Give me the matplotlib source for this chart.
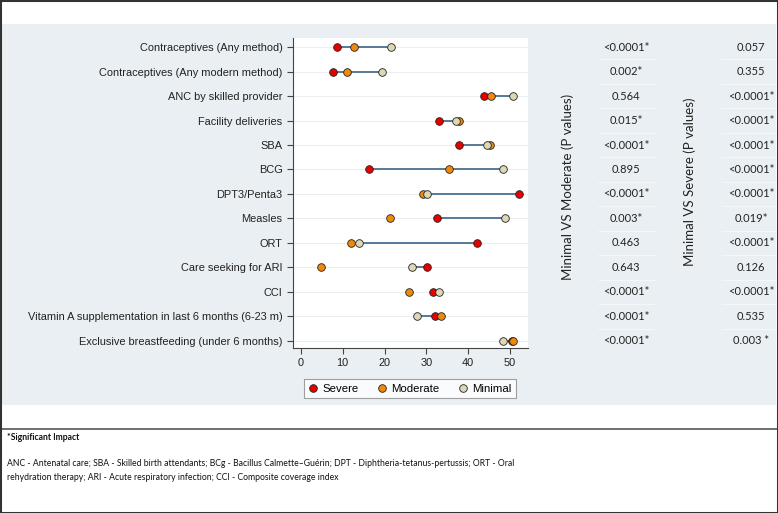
import numpy as np
import matplotlib.pyplot as plt
import matplotlib.transforms as mtransforms
from matplotlib.patches import Rectangle
from matplotlib.lines import Line2D

indicators = [
    'Contraceptives (Any method)',
    'Contraceptives (Any modern method)',
    'ANC by skilled provider',
    'Facility deliveries',
    'SBA',
    'BCG',
    'DPT3/Penta3',
    'Measles',
    'ORT',
    'Care seeking for ARI',
    'CCI',
    'Vitamin A supplementation in last 6 months (6-23 m)',
    'Exclusive breastfeeding (under 6 months)',
]
severe = [8.7, 7.7, 43.8, 32.9, 37.7, 16.2, 52.2, 32.6, 42.0, 30.2, 31.7, 32.1, 50.5]
moderate = [12.8, 10.9, 45.4, 37.8, 45.1, 35.5, 29.3, 21.3, 12.0, 4.9, 25.8, 33.5, 50.8]
minimal = [21.6, 19.5, 50.8, 37.1, 44.4, 48.3, 30.1, 48.7, 13.9, 26.6, 33.1, 27.8, 48.3]

p_min_vs_mod = ['<0.0001*', '0.002*', '0.564', '0.015*', '<0.0001*', '0.895', '<0.0001*',
                '0.003*', '0.463', '0.643', '<0.0001*', '<0.0001*', '<0.0001*']
p_min_vs_sev = ['0.057', '0.355', '<0.0001*', '<0.0001*', '<0.0001*', '<0.0001*', '<0.0001*',
                '0.019*', '<0.0001*', '0.126', '<0.0001*', '0.535', '0.003 *']

W, H = 778, 513
fig = plt.figure(figsize=(W / 100, H / 100), dpi=100)
fig.patch.set_facecolor('white')

# light panel behind the chart and p-value columns
fig.patches.append(Rectangle((1 / W, 1 - 405 / H), 775 / W, (405 - 24) / H,
                             transform=fig.transFigure, facecolor='#e9eff2',
                             edgecolor='none', zorder=-2))
fig.patches.append(Rectangle((0, 0), 1, 1, transform=fig.transFigure, fill=False,
                             edgecolor='#333333', lw=2.2, zorder=5))
fig.add_artist(Line2D([0, 1], [1 - 429 / H] * 2, color='#555555', lw=1.2))

ax = fig.add_axes([293 / W, 1 - 348 / H, (528 - 293) / W, (348 - 38) / H])
ax.set_facecolor('white')
ax.set_zorder(1)
y = np.arange(len(indicators))

ax.hlines(y, severe, minimal, color='#4a7090', lw=1.3, zorder=2)
ax.plot(severe, y, 'o', ls='none', ms=5.5, mfc='#e60000', mec='#222222', mew=0.6, zorder=3, label='Severe')
ax.plot(moderate, y, 'o', ls='none', ms=5.5, mfc='#f0880a', mec='#222222', mew=0.6, zorder=3, label='Moderate')
ax.plot(minimal, y, 'o', ls='none', ms=5.5, mfc='#dcd7b4', mec='#222222', mew=0.6, zorder=3, label='Minimal')

ax.set_xlim(-1.9, 54.3)
ax.set_ylim(12.29, -0.37)
ax.set_xticks(range(0, 51, 10))
ax.set_yticks(y, indicators)
ax.yaxis.grid(True, color='#e8eef2', lw=0.8)
ax.set_axisbelow(True)
for s in ['top', 'right']:
    ax.spines[s].set_visible(False)
for s in ['left', 'bottom']:
    ax.spines[s].set_color('#444444')
ax.tick_params(axis='both', length=4, color='#444444', labelsize=7.9, labelcolor='#222222')
for lab in ax.get_xticklabels() + ax.get_yticklabels():
    lab.set_family('Liberation Sans')

leg = fig.legend(loc='center', bbox_to_anchor=(410 / W, 1 - 388.5 / H), ncol=3,
                 frameon=True, fancybox=False, edgecolor='#888888',
                 handlelength=0.8, handletextpad=0.45, columnspacing=1.6, borderpad=0.4,
                 prop={'family': 'Liberation Sans', 'size': 8.2})
leg.get_frame().set_linewidth(0.8)

# p-value columns aligned with the rows
tr = mtransforms.blended_transform_factory(fig.transFigure, ax.transData)
for i in range(len(indicators)):
    fig.text(626 / W, i, p_min_vs_mod[i], transform=tr, ha='center', va='center',
             fontsize=8, family='Lato', color='#222222')
    fig.text(751 / W, i, p_min_vs_sev[i], transform=tr, ha='center', va='center',
             fontsize=8, family='Lato', color='#222222')
for i in range(len(indicators) - 1):
    fig.add_artist(Line2D([598 / W, 655 / W], [i + 0.5, i + 0.5], transform=tr,
                          color='#f4f7f9', lw=0.8))
    fig.add_artist(Line2D([722 / W, 776 / W], [i + 0.5, i + 0.5], transform=tr,
                          color='#f4f7f9', lw=0.8))

fig.text(568 / W, 1 - 187 / H, 'Minimal VS Moderate (P values)', rotation=90,
         ha='center', va='center', fontsize=9.5, family='Lato', color='#222222')
fig.text(690 / W, 1 - 182 / H, 'Minimal VS Severe (P values)', rotation=90,
         ha='center', va='center', fontsize=9.5, family='Lato', color='#222222')

fig.text(7 / W, 1 - 438 / H, '*Significant Impact', fontsize=6.2, weight='bold',
         family='Lato', va='center', color='#111111')
fig.text(7 / W, 1 - 464 / H,
         'ANC - Antenatal care; SBA - Skilled birth attendants; BCg - Bacillus Calmette\u2013Gu\u00e9rin; '
         'DPT - Diphtheria-tetanus-pertussis; ORT - Oral',
         fontsize=6.2, family='Lato', va='center', color='#111111')
fig.text(7 / W, 1 - 478 / H,
         'rehydration therapy; ARI - Acute respiratory infection; CCI - Composite coverage index',
         fontsize=6.2, family='Lato', va='center', color='#111111')

fig.savefig('out.png', dpi=100)
